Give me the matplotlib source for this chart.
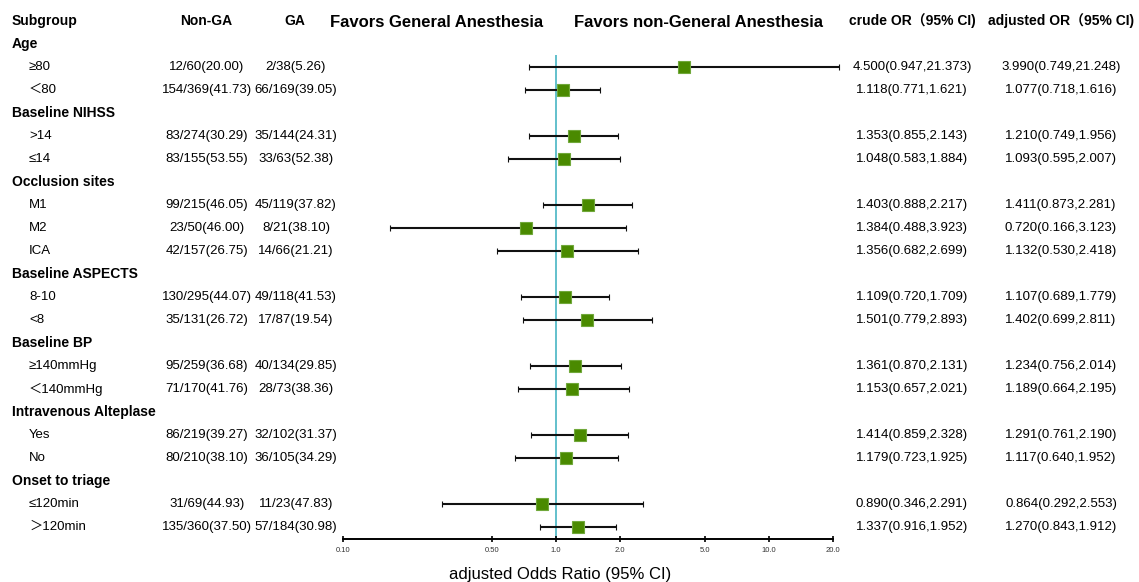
import numpy as np
import matplotlib.pyplot as plt
from matplotlib.ticker import NullLocator
from matplotlib.transforms import blended_transform_factory

plt.rcParams['font.family'] = ['Liberation Sans', 'Noto Sans CJK SC']

groups = ["Age", "Baseline NIHSS", "Occlusion sites", "Baseline ASPECTS",
          "Baseline BP", "Intravenous Alteplase", "Onset to triage"]
subgroups = [["≥80", "＜80"], [">14", "≤14"], ["M1", "M2", "ICA"], ["8-10", "<8"],
             ["≥140mmHg", "＜140mmHg"], ["Yes", "No"], ["≤120min", "＞120min"]]
non_ga = ["12/60(20.00)", "154/369(41.73)", "83/274(30.29)", "83/155(53.55)",
          "99/215(46.05)", "23/50(46.00)", "42/157(26.75)", "130/295(44.07)",
          "35/131(26.72)", "95/259(36.68)", "71/170(41.76)", "86/219(39.27)",
          "80/210(38.10)", "31/69(44.93)", "135/360(37.50)"]
ga = ["2/38(5.26)", "66/169(39.05)", "35/144(24.31)", "33/63(52.38)",
      "45/119(37.82)", "8/21(38.10)", "14/66(21.21)", "49/118(41.53)",
      "17/87(19.54)", "40/134(29.85)", "28/73(38.36)", "32/102(31.37)",
      "36/105(34.29)", "11/23(47.83)", "57/184(30.98)"]
crude = ["4.500(0.947,21.373)", "1.118(0.771,1.621)", "1.353(0.855,2.143)",
         "1.048(0.583,1.884)", "1.403(0.888,2.217)", "1.384(0.488,3.923)",
         "1.356(0.682,2.699)", "1.109(0.720,1.709)", "1.501(0.779,2.893)",
         "1.361(0.870,2.131)", "1.153(0.657,2.021)", "1.414(0.859,2.328)",
         "1.179(0.723,1.925)", "0.890(0.346,2.291)", "1.337(0.916,1.952)"]
adjusted = ["3.990(0.749,21.248)", "1.077(0.718,1.616)", "1.210(0.749,1.956)",
            "1.093(0.595,2.007)", "1.411(0.873,2.281)", "0.720(0.166,3.123)",
            "1.132(0.530,2.418)", "1.107(0.689,1.779)", "1.402(0.699,2.811)",
            "1.234(0.756,2.014)", "1.189(0.664,2.195)", "1.291(0.761,2.190)",
            "1.117(0.640,1.952)", "0.864(0.292,2.553)", "1.270(0.843,1.912)"]

# values as drawn (the M2 whisker in the figure ends near 2.13, not 3.123)
est = [3.990, 1.077, 1.210, 1.093, 1.411, 0.720, 1.132, 1.107, 1.402,
       1.234, 1.189, 1.291, 1.117, 0.864, 1.270]
lo = [0.749, 0.718, 0.749, 0.595, 0.873, 0.166, 0.530, 0.689, 0.699,
      0.756, 0.664, 0.761, 0.640, 0.292, 0.843]
hi = [21.248, 1.616, 1.956, 2.007, 2.281, 2.13, 2.418, 1.779, 2.811,
      2.014, 2.195, 2.190, 1.952, 2.553, 1.912]

xticks = [0.1, 0.5, 1.0, 2.0, 5.0, 10.0, 20.0]
xticklabels = ["0.10", "0.50", "1.0", "2.0", "5.0", "10.0", "20.0"]

W, H = 1139, 582
fig = plt.figure(figsize=(W / 100, H / 100), dpi=100)
ax = fig.add_axes([343 / W, 1 - 539 / H, 490 / W, 484 / H])
ax.set_xscale('log')
ax.set_xlim(0.1, 20)
ax.set_ylim(22.52, 1.478)

tr = blended_transform_factory(fig.transFigure, ax.transData)

def put(x, y, s, **kw):
    kw.setdefault('va', 'center')
    kw.setdefault('fontsize', 9.5)
    ax.text(x / W, y, s, transform=tr, clip_on=False, **kw)

# header row
put(12, 0, "Subgroup", fontweight='bold', fontsize=10)
put(206, 0, "Non-GA", ha='center', fontweight='bold', fontsize=10)
put(295, 0, "GA", ha='center', fontweight='bold', fontsize=10)
put(437, 0.05, "Favors General Anesthesia", ha='center', fontweight='bold', fontsize=12)
put(698, 0.05, "Favors non-General Anesthesia", ha='center', fontweight='bold', fontsize=12)
put(912, 0, "crude OR（95% CI)", ha='center', fontweight='bold', fontsize=10)
put(1061, 0, "adjusted OR（95% CI)", ha='center', fontweight='bold', fontsize=10)

rows = []
r = 1
for g, subs in zip(groups, subgroups):
    put(12, r, g, fontweight='bold', fontsize=10)
    r += 1
    for s in subs:
        put(29, r, s)
        rows.append(r)
        r += 1

for i, y in enumerate(rows):
    put(207, y, non_ga[i], ha='center')
    put(296, y, ga[i], ha='center')
    put(912, y, crude[i], ha='center')
    put(1061, y, adjusted[i], ha='center')

est = np.array(est)
lo = np.array(lo)
hi = np.array(hi)
ax.axvline(1.0, color='#62c0cc', lw=1.4, zorder=1)
eb = ax.errorbar(est, rows, xerr=[est - lo, hi - est], fmt='s', color='#4a8a00',
                 markersize=8, markeredgecolor='#70a83a', markeredgewidth=0.8,
                 ecolor='#111111', elinewidth=1.5, capsize=2.2, capthick=1.5)
for a in eb.get_children():
    a.set_clip_on(False)
eb.lines[0].set_zorder(4)

for side in ['top', 'left', 'right']:
    ax.spines[side].set_visible(False)
ax.spines['bottom'].set_linewidth(1.4)
ax.set_yticks([])
ax.set_xticks(xticks)
ax.set_xticklabels(xticklabels, fontsize=5.5, color='#333333')
ax.xaxis.set_minor_locator(NullLocator())
ax.tick_params(axis='x', direction='inout', length=5, width=1.2, pad=3)

fig.text(560 / W, 1 - 575 / H, "adjusted Odds Ratio (95% CI)", ha='center',
         va='center', fontsize=12)

fig.savefig('out.png', dpi=100, facecolor='white')
